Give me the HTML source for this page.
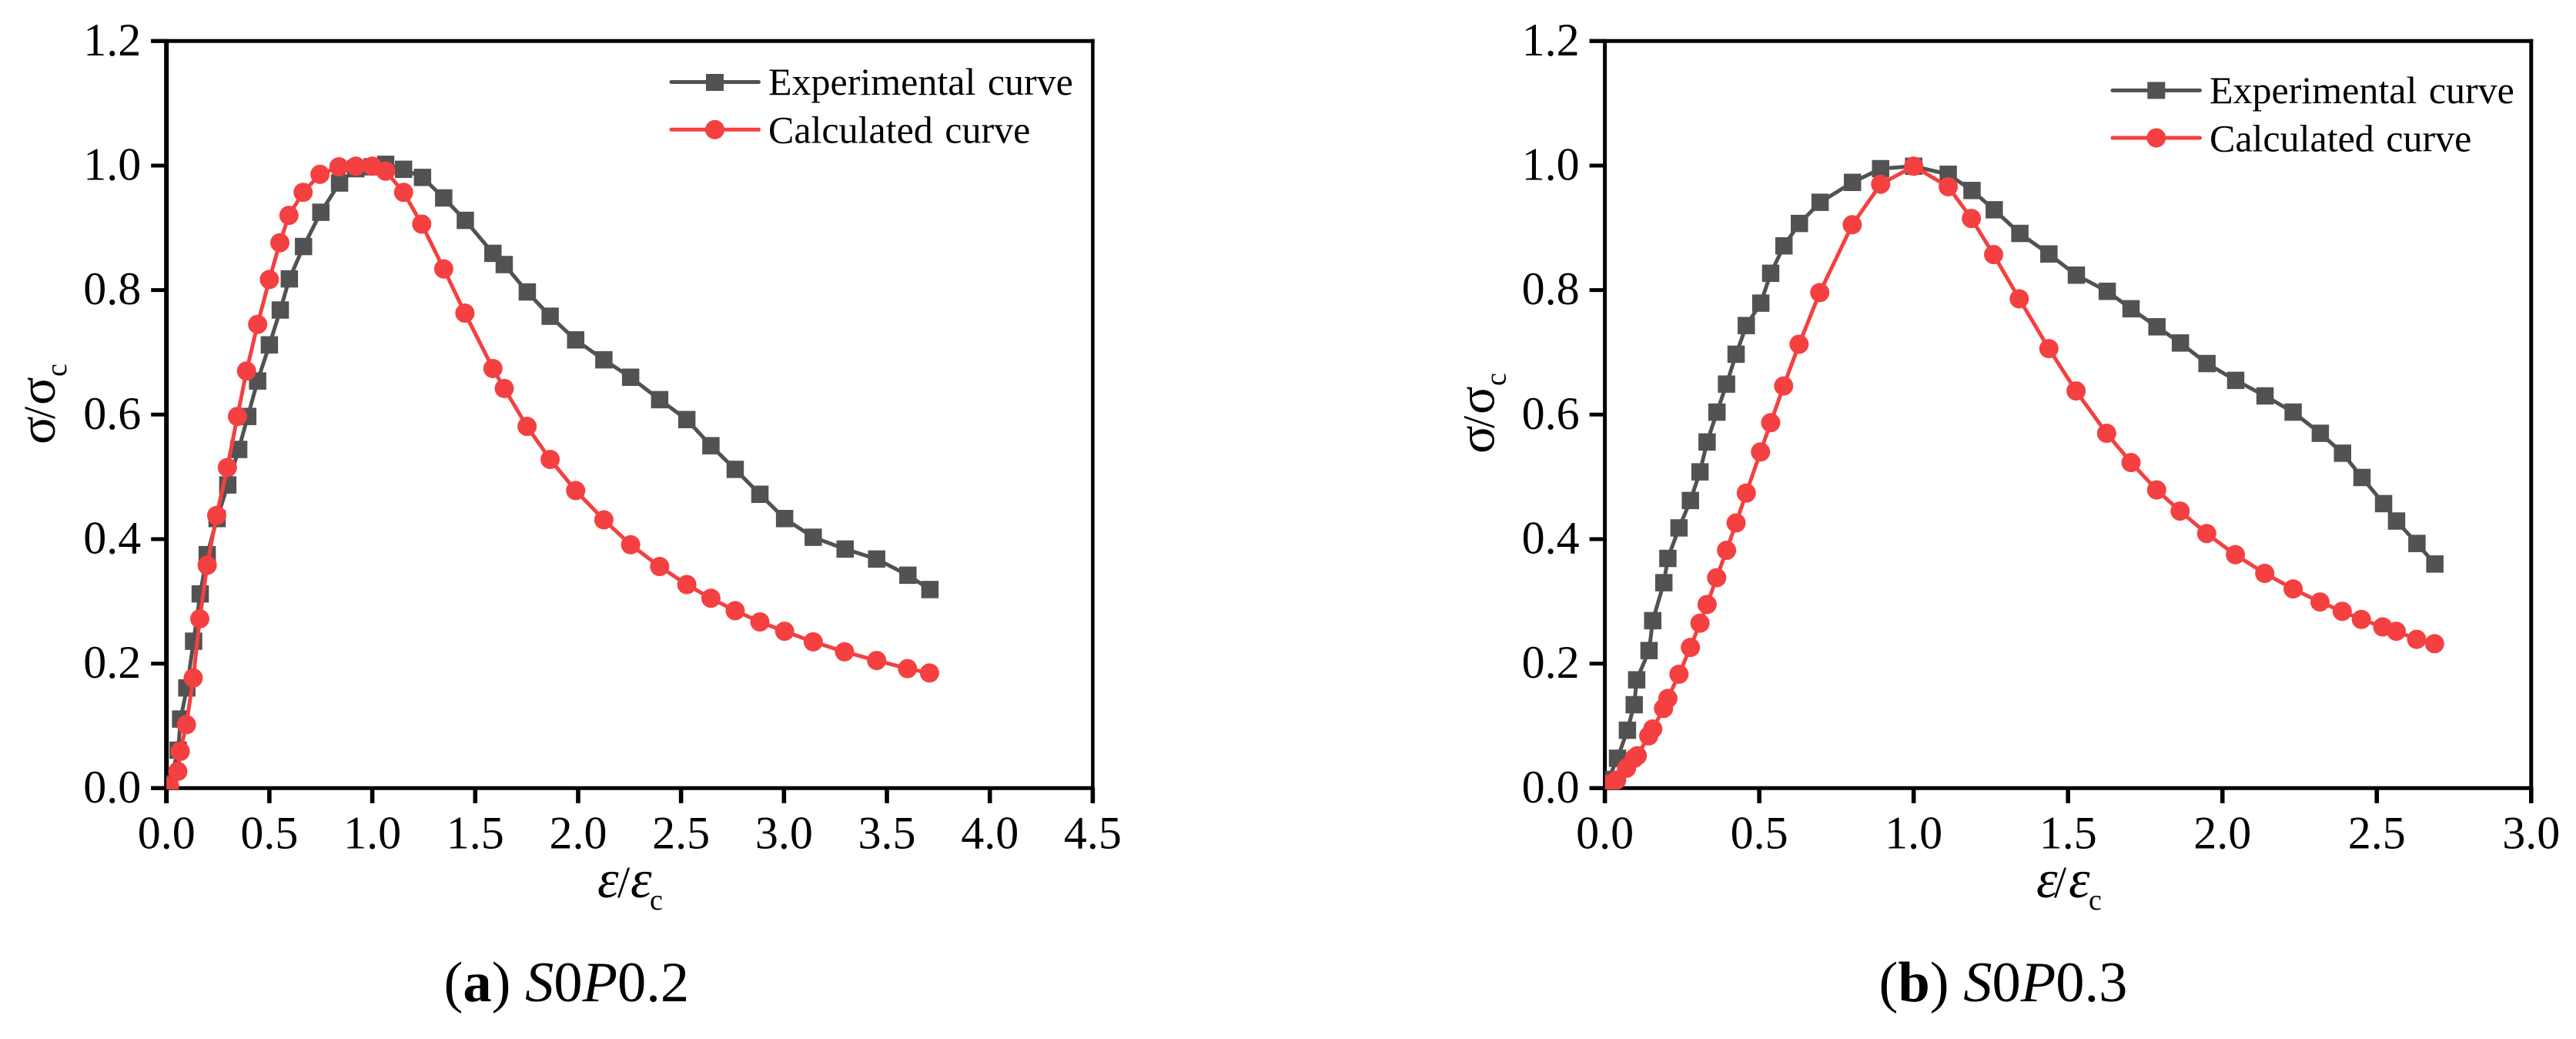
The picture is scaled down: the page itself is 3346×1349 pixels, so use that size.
<!DOCTYPE html>
<html lang="en">
<head>
<meta charset="utf-8">
<title>Stress-strain curves S0P0.2 and S0P0.3</title>
<style>
html,body{margin:0;padding:0;background:#fff;}
svg{display:block;font-family:"Liberation Serif",serif;}
</style>
</head>
<body>
<svg id="figure" xmlns="http://www.w3.org/2000/svg" width="3346" height="1349" viewBox="0 0 3346 1349">
  <rect x="0" y="0" width="3346" height="1349" fill="#ffffff"/>
  <defs>
    <clipPath id="clip-a"><rect x="216.2" y="53" width="1203.2" height="972"/></clipPath>
    <clipPath id="clip-b"><rect x="2084.6" y="53" width="1203.2" height="972"/></clipPath>
  </defs>
  <g id="panel-a"></g>
  <g id="panel-b"></g>

  <g transform="translate(71,577) rotate(-90)">
    <text fill="#000" font-size="68"><tspan x="0" y="0">σ</tspan><tspan x="33" y="0" font-size="58">/</tspan><tspan x="51" y="0">σ</tspan><tspan x="88" y="15" font-size="38">c</tspan></text>
  </g>
  <g transform="translate(1940.6,589) rotate(-90)">
    <text fill="#000" font-size="68"><tspan x="0" y="0">σ</tspan><tspan x="33" y="0" font-size="58">/</tspan><tspan x="51" y="0">σ</tspan><tspan x="88" y="15" font-size="38">c</tspan></text>
  </g>

  <text y="1165" font-size="70" fill="#000"><tspan x="776" y="1165" font-style="italic">ε</tspan><tspan x="802" y="1165" font-size="58">/</tspan><tspan x="819" y="1165" font-style="italic">ε</tspan><tspan x="844" y="1181" font-size="38">c</tspan></text>
  <text y="1165" font-size="70" fill="#000"><tspan x="2645" y="1165" font-style="italic">ε</tspan><tspan x="2668" y="1165" font-size="58">/</tspan><tspan x="2687" y="1165" font-style="italic">ε</tspan><tspan x="2713" y="1181" font-size="38">c</tspan></text>

  <text x="576.5" y="1300" font-size="74.5" fill="#000">(<tspan font-weight="bold">a</tspan>) <tspan font-style="italic">S</tspan>0<tspan font-style="italic">P</tspan>0.2</text>
  <text x="2440.5" y="1300" font-size="74.5" fill="#000">(<tspan font-weight="bold">b</tspan>) <tspan font-style="italic">S</tspan>0<tspan font-style="italic">P</tspan>0.3</text>

  <g>
    <line x1="872" y1="106.5" x2="985.5" y2="106.5" stroke="#525252" stroke-width="5" stroke-linecap="round"/>
    <rect x="917" y="96" width="23" height="22" fill="#525252"/>
    <text x="998" y="122.8" font-size="50" word-spacing="3" fill="#000">Experimental curve</text>
    <line x1="872" y1="168.3" x2="985.5" y2="168.3" stroke="#f44040" stroke-width="5" stroke-linecap="round"/>
    <circle cx="928.5" cy="168.3" r="12.5" fill="#f44040"/>
    <text x="998" y="185.3" font-size="50" word-spacing="3" fill="#000">Calculated curve</text>
  </g>
  <g>
    <line x1="2744" y1="117.4" x2="2857.5" y2="117.4" stroke="#525252" stroke-width="5" stroke-linecap="round"/>
    <rect x="2789.3" y="106.4" width="23" height="22" fill="#525252"/>
    <text x="2870" y="134" font-size="50" word-spacing="3" fill="#000">Experimental curve</text>
    <line x1="2744" y1="179" x2="2857.5" y2="179" stroke="#f44040" stroke-width="5" stroke-linecap="round"/>
    <circle cx="2800.8" cy="179" r="12.5" fill="#f44040"/>
    <text x="2870" y="196.4" font-size="50" word-spacing="3" fill="#000">Calculated curve</text>
  </g>
</svg>
<script>
const yTickLabels = ['0.0','0.2','0.4','0.6','0.8','1.0','1.2'];
const xTickLabelsA = ['0.0','0.5','1.0','1.5','2.0','2.5','3.0','3.5','4.0','4.5'];
const xTickLabelsB = ['0.0','0.5','1.0','1.5','2.0','2.5','3.0'];

const expStrainA = [0.015,0.057,0.069,0.099,0.132,0.164,0.198,0.246,0.298,0.351,0.395,0.443,0.500,0.553,0.597,0.666,0.750,0.841,0.920,1.000,1.065,1.152,1.244,1.347,1.452,1.586,1.641,1.753,1.864,1.988,2.125,2.255,2.396,2.528,2.645,2.763,2.883,3.003,3.142,3.297,3.450,3.602,3.709];
const expStressA = [0.007,0.061,0.111,0.161,0.236,0.312,0.375,0.433,0.487,0.544,0.597,0.654,0.712,0.768,0.818,0.870,0.925,0.972,0.995,0.998,1.002,0.994,0.981,0.948,0.912,0.859,0.841,0.797,0.758,0.720,0.688,0.660,0.624,0.592,0.550,0.512,0.472,0.433,0.403,0.384,0.368,0.342,0.319];
const calcStrainA = [0.015,0.055,0.067,0.097,0.130,0.162,0.198,0.244,0.296,0.345,0.389,0.443,0.500,0.551,0.595,0.664,0.746,0.838,0.920,1.000,1.065,1.152,1.240,1.347,1.450,1.586,1.641,1.752,1.864,1.988,2.125,2.255,2.396,2.528,2.645,2.763,2.883,3.003,3.142,3.294,3.450,3.600,3.707];
const calcStressA = [0.003,0.027,0.059,0.102,0.177,0.272,0.358,0.438,0.515,0.597,0.670,0.745,0.817,0.876,0.920,0.957,0.986,0.998,0.999,0.999,0.991,0.957,0.906,0.834,0.763,0.674,0.642,0.581,0.528,0.478,0.431,0.391,0.356,0.327,0.305,0.285,0.267,0.252,0.235,0.219,0.205,0.192,0.185];

const expStrainB = [0.011,0.041,0.073,0.095,0.103,0.143,0.155,0.191,0.204,0.240,0.277,0.308,0.331,0.363,0.394,0.425,0.458,0.505,0.537,0.580,0.630,0.697,0.802,0.893,1.000,1.112,1.189,1.261,1.344,1.438,1.527,1.627,1.704,1.788,1.864,1.950,2.043,2.138,2.229,2.317,2.389,2.452,2.522,2.564,2.630,2.688];
const expStressB = [0.014,0.048,0.093,0.134,0.174,0.221,0.269,0.330,0.369,0.418,0.462,0.508,0.556,0.604,0.649,0.697,0.743,0.779,0.827,0.871,0.907,0.941,0.973,0.995,0.999,0.986,0.960,0.929,0.891,0.858,0.824,0.798,0.770,0.741,0.715,0.682,0.655,0.630,0.604,0.570,0.538,0.499,0.457,0.429,0.393,0.360];
const calcStrainB = [0.011,0.038,0.070,0.095,0.105,0.142,0.155,0.190,0.204,0.240,0.277,0.308,0.331,0.362,0.394,0.425,0.458,0.504,0.537,0.579,0.629,0.696,0.801,0.893,1.000,1.112,1.187,1.259,1.342,1.438,1.526,1.625,1.704,1.787,1.863,1.949,2.042,2.137,2.229,2.316,2.388,2.450,2.519,2.563,2.629,2.687];
const calcStressB = [0.006,0.013,0.032,0.048,0.052,0.084,0.095,0.128,0.144,0.183,0.226,0.265,0.295,0.338,0.382,0.426,0.474,0.540,0.587,0.646,0.713,0.796,0.905,0.970,0.999,0.966,0.915,0.857,0.786,0.706,0.638,0.570,0.523,0.479,0.445,0.409,0.375,0.345,0.320,0.299,0.284,0.271,0.259,0.252,0.239,0.232];

const SVG_NS = 'http://www.w3.org/2000/svg';
const GREY = '#525252';
const RED = '#f44040';

function make(tag, attrs, parent) {
  const el = document.createElementNS(SVG_NS, tag);
  for (const k in attrs) el.setAttribute(k, attrs[k]);
  parent.appendChild(el);
  return el;
}

function drawPanel(groupId, clipId, left, right, xMax, xLabels, leftWidth, rightWidth, series) {
  const top = 53.3, bottom = 1023.3, yMax = 1.2;
  const group = document.getElementById(groupId);
  const xScale = v => left + (v / xMax) * (right - left);
  const yScale = v => bottom - (v / yMax) * (bottom - top);

  const axisTop = make('line', {x1: left - 20, y1: top, x2: right + rightWidth / 2, y2: top, stroke: '#000', 'stroke-width': 5}, group);
  
  
  const axisBottom = make('line', {x1: left - 20, y1: bottom, x2: right + rightWidth / 2, y2: bottom, stroke: '#000', 'stroke-width': 5}, group);
  
  
  const axisLeft = make('line', {x1: left, y1: top - 2.5, x2: left, y2: 1042.8, stroke: '#000', 'stroke-width': leftWidth}, group);
  
  
  const axisRight = make('line', {x1: right, y1: top - 2.5, x2: right, y2: 1042.8, stroke: '#000', 'stroke-width': rightWidth}, group);
  
  

  xLabels.forEach(lab => {
    const v = parseFloat(lab), x = xScale(v);
    const tick = make('line', {x1: x, y1: bottom, x2: x, y2: 1042.8, stroke: '#000', 'stroke-width': 5.6}, group);
    
    
    const t = make('text', {x: x, y: 1101.4, 'font-size': 60, 'text-anchor': 'middle', fill: '#000'}, group);
    t.textContent = lab;
    
    
  });

  yTickLabels.forEach(lab => {
    const v = parseFloat(lab), y = yScale(v);
    const tick = make('line', {x1: left - 20, y1: y, x2: left, y2: y, stroke: '#000', 'stroke-width': 5}, group);
    
    
    const t = make('text', {x: left - 33, y: y + 18.5, 'font-size': 60, 'text-anchor': 'end', fill: '#000'}, group);
    t.textContent = lab;
    
    
  });

  const plot = make('g', {'clip-path': 'url(#' + clipId + ')'}, group);
  
  

  series.forEach(s => {
    const pts = s.x.map((v, i) => xScale(v).toFixed(1) + ',' + yScale(s.y[i]).toFixed(1)).join(' ');
    const line = make('polyline', {points: pts, fill: 'none', stroke: s.color, 'stroke-width': 5, 'stroke-linejoin': 'round'}, plot);
    
    
    s.x.forEach((v, i) => {
      const cx = xScale(v), cy = yScale(s.y[i]);
      let mark;
      if (s.shape === 'square') {
        mark = make('rect', {x: cx - 11.25, y: cy - 11.25, width: 22.5, height: 22.5, fill: s.color}, plot);
      } else {
        mark = make('circle', {cx: cx, cy: cy, r: 12.5, fill: s.color}, plot);
      }
      
      
    });
  });
}

drawPanel('panel-a', 'clip-a', 216.2, 1419.4, 4.5, xTickLabelsA, 6, 4.5, [
  {name: 'experimental-curve', shape: 'square', color: GREY, x: expStrainA, y: expStressA},
  {name: 'calculated-curve', shape: 'circle', color: RED, x: calcStrainA, y: calcStressA}
]);
drawPanel('panel-b', 'clip-b', 2084.6, 3287.8, 3.0, xTickLabelsB, 5, 5, [
  {name: 'experimental-curve', shape: 'square', color: GREY, x: expStrainB, y: expStressB},
  {name: 'calculated-curve', shape: 'circle', color: RED, x: calcStrainB, y: calcStressB}
]);
</script>
</body>
</html>
